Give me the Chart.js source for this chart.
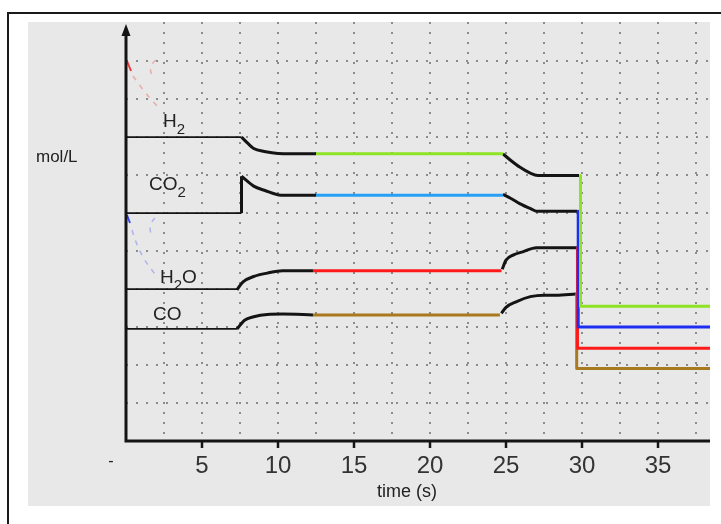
<!DOCTYPE html>
<html>
<head>
<meta charset="utf-8">
<script src="https://cdn.jsdelivr.net/npm/chart.js@4/dist/chart.umd.min.js"></script>
<style>
  body { margin: 0; background: #fff; }
  #frame { position: absolute; left: 7px; top: 12px; width: 760px; height: 560px; border: 2px solid #1a1a1a; }
  #myChart { position: absolute; left: 28px; top: 22px; background: #e8e8e8; }
</style>
</head>
<body>
<div id="frame"></div>
<canvas id="myChart" width="682" height="484"></canvas>
<script>
// Data: [time (s), concentration (mol/L)]
let h2Start = [[0, 8.0], [7.6, 8.0]];
let h2Shift1 = [[7.6, 8.0], [8.0, 7.84], [8.4, 7.7], [9.1, 7.62], [10.0, 7.57], [12.5, 7.56]];
let h2Eq1 = [[12.5, 7.56], [24.8, 7.56]];
let h2Shift2 = [[24.8, 7.56], [25.3, 7.39], [25.9, 7.21], [26.6, 7.05], [27.1, 6.99], [29.8, 6.99]];
let h2Drop = [[29.9, 6.99], [29.9, 3.55], [38.5, 3.55]];

let co2Start = [[0, 6.0], [7.6, 6.0]];
let co2Jump = [[7.6, 6.0], [7.6, 6.97]];
let co2Shift1 = [[7.6, 6.97], [8.4, 6.71], [9.1, 6.6], [10.2, 6.47], [12.5, 6.47]];
let co2Eq1 = [[12.5, 6.47], [24.8, 6.47]];
let co2Shift2 = [[24.8, 6.49], [25.3, 6.39], [25.9, 6.25], [26.7, 6.1], [27.0, 6.05], [29.7, 6.05]];
let co2Drop = [[29.75, 6.05], [29.75, 3.0], [38.5, 3.0]];

let h2oStart = [[0, 4.0], [7.3, 4.0]];
let h2oShift1 = [[7.3, 3.98], [7.7, 4.19], [8.4, 4.33], [9.3, 4.42], [10.3, 4.48], [12.3, 4.48]];
let h2oEq1 = [[12.3, 4.48], [24.7, 4.48]];
let h2oShift2 = [[24.75, 4.52], [25.0, 4.76], [25.5, 4.9], [26.1, 4.98], [27.0, 5.09], [29.7, 5.09]];
let h2oDrop = [[29.7, 5.09], [29.7, 2.44], [38.5, 2.44]];

let coStart = [[0, 2.95], [7.3, 2.95]];
let coShift1 = [[7.3, 2.95], [7.8, 3.18], [8.4, 3.27], [9.3, 3.33], [10.3, 3.34], [12.3, 3.32]];
let coEq1 = [[12.3, 3.32], [24.6, 3.32]];
let coShift2 = [[24.7, 3.36], [25.0, 3.52], [25.7, 3.67], [26.6, 3.8], [27.5, 3.84], [28.3, 3.84], [29.6, 3.87]];
let coDrop = [[29.65, 3.87], [29.65, 1.91], [38.5, 1.91]];

let xGrid = [2.5, 5, 7.5, 10, 12.5, 15, 17.5, 20, 22.5, 25, 27.5, 30, 32.5, 35, 37.5];
let xLabels = [5, 10, 15, 20, 25, 30, 35];
let yGrid = [1, 2, 3, 4, 5, 6, 7, 8, 9, 10];

// species labels: [text, isSubscript]
let speciesLabels = [
  [['H', 0], ['2', 1]],
  [['CO', 0], ['2', 1]],
  [['H', 0], ['2', 1], ['O', 0]],
  [['CO', 0]]
];
let labelTime = [2.43, 1.51, 2.24, 1.78];
let labelConc = [8.26, 6.6, 4.16, 3.18];

let FONT = '"Liberation Sans", Arial, sans-serif';
let BLACK = '#141414';

function seg(points, color, width, smooth) {
  return {
    data: points.map(p => ({ x: p[0], y: p[1] })),
    borderColor: color,
    borderWidth: width,
    pointRadius: 0,
    fill: false,
    tension: 0,
    cubicInterpolationMode: smooth ? 'monotone' : 'default',
    borderCapStyle: 'butt',
    borderJoinStyle: 'round'
  };
}

let datasets = [
  seg(h2Drop, '#8ee324', 3, false),
  seg(co2Drop, '#1c2ef2', 3, false),
  seg(h2oDrop, '#ff1a1a', 3, false),
  seg(coDrop, '#a8791f', 3, false),
  seg(h2Eq1, '#8ee324', 3, false),
  seg(co2Eq1, '#25a0f5', 3, false),
  seg(h2oEq1, '#ff1a1a', 3, false),
  seg(coEq1, '#a8791f', 3, false),
  seg(h2Shift1, BLACK, 3, true),
  seg(co2Jump, BLACK, 3, false),
  seg(co2Shift1, BLACK, 3, true),
  seg(h2oShift1, BLACK, 3, true),
  seg(coShift1, BLACK, 3, true),
  seg(h2Shift2, BLACK, 3, true),
  seg(co2Shift2, BLACK, 3, true),
  seg(h2oShift2, BLACK, 3, true),
  seg(coShift2, BLACK, 3, true),
  seg(h2Start, BLACK, 1.8, false),
  seg(co2Start, BLACK, 1.8, false),
  seg(h2oStart, BLACK, 1.8, false),
  seg(coStart, BLACK, 1.8, false)
];

function drawChem(ctx, parts, x, y) {
  let cx = x;
  parts.forEach(p => {
    ctx.font = p[1] ? '15px ' + FONT : '19px ' + FONT;
    ctx.fillText(p[0], cx, p[1] ? y + 7 : y);
    cx += ctx.measureText(p[0]).width;
  });
}

let decor = {
  id: 'decor',
  afterDatasetsDraw(chart) {
    let ctx = chart.ctx;
    let a = chart.chartArea;
    let xs = chart.scales.x;
    let ys = chart.scales.y;
    ctx.save();

    // faint arrows near the axis
    ctx.lineWidth = 2;
    ctx.strokeStyle = '#e83a3a';
    ctx.beginPath(); ctx.moveTo(a.left + 1, 39); ctx.lineTo(a.left + 5, 49); ctx.stroke();
    ctx.strokeStyle = '#3a46f0';
    ctx.beginPath(); ctx.moveTo(a.left + 1, 193); ctx.lineTo(a.left + 4, 201); ctx.stroke();
    ctx.setLineDash([5, 6]);
    ctx.lineWidth = 1.5;
    ctx.strokeStyle = 'rgba(230,60,60,0.35)';
    ctx.beginPath(); ctx.moveTo(a.left + 7, 54); ctx.quadraticCurveTo(a.left + 18, 70, a.left + 31, 84); ctx.stroke();
    ctx.beginPath(); ctx.moveTo(a.left + 30, 38); ctx.quadraticCurveTo(a.left + 20, 46, a.left + 28, 56); ctx.stroke();
    ctx.strokeStyle = 'rgba(70,80,240,0.35)';
    ctx.beginPath(); ctx.moveTo(a.left + 6, 208); ctx.quadraticCurveTo(a.left + 14, 236, a.left + 31, 254); ctx.stroke();
    ctx.beginPath(); ctx.moveTo(a.left + 29, 196); ctx.quadraticCurveTo(a.left + 21, 204, a.left + 26, 214); ctx.stroke();
    ctx.setLineDash([]);

    // axes
    ctx.strokeStyle = BLACK;
    ctx.lineWidth = 3;
    ctx.beginPath();
    ctx.moveTo(a.left, a.bottom);
    ctx.lineTo(a.right, a.bottom);
    ctx.moveTo(a.left, a.bottom + 1.5);
    ctx.lineTo(a.left, 12);
    ctx.stroke();
    ctx.fillStyle = BLACK;
    ctx.beginPath();
    ctx.moveTo(a.left, 2);
    ctx.lineTo(a.left - 4.5, 14);
    ctx.lineTo(a.left + 4.5, 14);
    ctx.closePath();
    ctx.fill();

    // texts
    ctx.fillStyle = '#222';
    ctx.textAlign = 'left';
    ctx.textBaseline = 'alphabetic';
    for (let i = 0; i < speciesLabels.length; i++) {
      drawChem(ctx, speciesLabels[i], xs.getPixelForValue(labelTime[i]), ys.getPixelForValue(labelConc[i]));
    }
    ctx.font = '17px ' + FONT;
    ctx.fillText('mol/L', 8, 140);

    ctx.textAlign = 'center';
    ctx.textBaseline = 'middle';
    ctx.font = '18px ' + FONT;
    ctx.fillText('time (s)', 379, 470);
    ctx.font = '16px ' + FONT;
    ctx.fillText('-', xs.getPixelForValue(-1), 440);
    ctx.restore();
  }
};

let chart = new Chart(document.getElementById('myChart'), {
  type: 'line',
  data: { datasets: datasets },
  options: {
    responsive: false,
    animation: false,
    layout: { padding: { left: 98, top: 0, right: 0, bottom: 0 } },
    plugins: { legend: { display: false }, tooltip: { enabled: false } },
    scales: {
      x: {
        type: 'linear',
        min: 0,
        max: 38.42,
        afterBuildTicks: s => { s.ticks = xGrid.map(v => ({ value: v })); },
        afterFit: s => { s.height = 65; },
        ticks: {
          autoSkip: false,
          maxRotation: 0,
          padding: 4,
          color: '#333',
          font: { family: FONT, size: 24 },
          callback: v => (xLabels.includes(v) ? String(v) : '')
        },
        grid: {
          color: '#8c8c8c',
          lineWidth: 2,
          drawTicks: true,
          tickLength: 7,
          tickWidth: 2.5,
          tickColor: c => (c.tick && xLabels.includes(c.tick.value) ? BLACK : 'rgba(0,0,0,0)')
        },
        border: { display: false, dash: [2, 8] }
      },
      y: {
        type: 'linear',
        min: 0,
        max: 11.03,
        afterBuildTicks: s => { s.ticks = yGrid.map(v => ({ value: v })); },
        afterFit: s => { s.width = 0; },
        ticks: { display: false },
        grid: { color: '#8c8c8c', lineWidth: 2, drawTicks: false },
        border: { display: false, dash: [2, 8] }
      }
    }
  },
  plugins: [decor]
});
</script>
</body>
</html>
